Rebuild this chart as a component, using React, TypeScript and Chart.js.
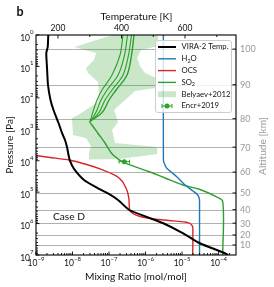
import React, { useEffect, useRef } from "react";
import { Chart, registerables } from "chart.js";

Chart.register(...registerables);

const FONT = "Lato, 'DejaVu Sans', sans-serif";

// ---------- data ----------
// VIRA-2 temperature profile: temperature [K] vs pressure [Pa]
const viraTempK = [169.4, 167.6, 163.1, 165.4, 168.5, 176.4, 185.8, 201.6, 212.6, 222.0, 228.3, 233.1, 237.8, 250.4, 281.9, 326.0, 357.5, 389.0, 424.6, 477.2, 529.8, 592.8, 645.0, 723.8, 735.4];
const viraPressPa = [1, 2.41, 3.74, 11.2, 39.0, 117, 243, 630, 1310, 2190, 3660, 6580, 1.02e4, 1.83e4, 4.11e4, 7.54e4, 1.10e5, 1.78e5, 3.70e5, 6.04e5, 9.58e5, 2.0e6, 4.15e6, 8.63e6, 1e7];

// H2O mixing ratio
const h2oMix = [3.08e-6, 3.08e-6, 3.32e-6, 3.81e-6, 7.16e-6, 1.21e-5, 2.0e-5, 2.69e-5, 2.98e-5, 3.01e-5, 3.01e-5];
const h2oPress = [1, 9.48e3, 1.27e4, 1.74e4, 3.22e4, 5.93e4, 9.19e4, 1.23e5, 1.65e5, 2.21e5, 1e7];

// OCS mixing ratio
const ocsMix = [3.65e-10, 1.0e-9, 2.42e-9, 8.02e-9, 2.2e-8, 5.66e-8, 1.56e-7, 2.27e-7, 2.74e-7, 3.21e-7, 3.53e-7, 3.65e-7, 4.46e-7, 7.06e-7, 1.33e-6, 4.41e-6, 1.21e-5, 1.66e-5, 1.96e-5, 1.96e-5];
const ocsPress = [5.77e3, 6.82e3, 7.91e3, 9.48e3, 1.27e4, 1.83e4, 3.06e4, 4.42e4, 6.37e4, 9.89e4, 1.78e5, 3.70e5, 4.71e5, 5.96e5, 6.89e5, 7.98e5, 8.91e5, 9.95e5, 1.26e6, 1e7];

// SO2 mixing ratio (main profile)
const so2Mix = [4.84e-7, 4.13e-7, 3.11e-7, 1.56e-7, 1.0e-7, 7.3e-8, 5.49e-8, 3.01e-8, 3.42e-8, 4.9e-8, 7.77e-8, 1.29e-7, 2.74e-7, 1.33e-6, 3.65e-6, 1.06e-5, 3.11e-5, 8.55e-5, 1.3e-4, 1.3e-4];
const so2Press = [1, 4.33, 18.7, 56.2, 117, 243, 350, 573, 730, 1310, 2730, 6580, 1.18e4, 2.29e4, 3.68e4, 5.93e4, 8.24e4, 1.4e5, 2.01e5, 1e7];

// SO2 upper-atmosphere variants
const so2UpperPress = [1, 4.33, 18.7, 56.2, 117, 243, 350, 573];
const so2MixA = [2.42e-7, 2.0e-7, 1.21e-7, 6.43e-8, 4.69e-8, 3.76e-8, 3.42e-8, 3.01e-8];
const so2MixB = [3.21e-7, 2.66e-7, 1.77e-7, 8.81e-8, 6.04e-8, 4.69e-8, 4.01e-8, 3.01e-8];
const so2MixC = [4.13e-7, 3.42e-7, 2.42e-7, 1.21e-7, 7.77e-8, 5.85e-8, 4.69e-8, 3.01e-8];

// Belyaev+2012 range (closed outline)
const belyaevMix = [1.26e-7, 2.2e-6, 2.2e-6, 7.54e-7, 5.85e-7, 7.06e-7, 9.68e-7, 1.94e-6, 1.94e-6, 5.15e-7, 2.74e-7, 1.37e-7, 1.77e-7, 1.21e-7, 1.46e-7, 2.07e-6, 2.07e-6, 2.0e-7, 2.83e-8, 2.83e-8, 3.21e-8, 2.34e-8, 1.03e-8, 9.68e-9, 1.42e-8, 5.0e-8, 5.32e-8, 5.0e-8, 2.66e-8, 2.34e-8, 3.88e-8, 4.41e-8, 1.12e-8, 1.26e-7];
const belyaevPress = [1, 1, 2.24, 3.0, 5.39, 9.69, 16.2, 23.3, 48.5, 60.5, 117, 243, 586, 1054, 2731, 3660, 6110, 8810, 9140, 5680, 3404, 1893, 1521, 438, 351, 136, 65.1, 31.3, 16.2, 11.2, 6.24, 3.74, 2.41, 1];

// Encrenaz+2019 point with error bar
const encrMix = [2.62e-7];
const encrMixLo = [1.88e-7];
const encrMixHi = [3.65e-7];
const encrPress = [1.07e4];

// axes
const mixTickExps = [-9, -8, -7, -6, -5, -4];
const pressTickExps = [0, 1, 2, 3, 4, 5, 6, 7];
const tempTicks = [200, 400, 600];
const tempMinorTicks = [300, 500, 700];
const altKm = [100, 90, 80, 70, 60, 50, 40, 30, 20, 10];
const altPress = [2.8, 38, 460, 3700, 2.3e4, 1.06e5, 3.6e5, 9.7e5, 2.3e6, 4.8e6];

const MIX_MIN = 1e-9;
const MIX_MAX = 3.0e-4;
const P_MIN = 1;
const P_MAX = 1e7;
const T_MIN = 130.7;
const T_MAX = 760.6;

const BLACK = "#000000";
const BLUE = "#1f77b4";
const RED = "#d62728";
const GREEN = "#2ca02c";
const BEL_FILL = "rgba(44,160,44,0.25)";

const pts = (xs: number[], ys: number[]) => xs.map((x, i) => ({ x, y: ys[i] }));

function fitSize(ctx: CanvasRenderingContext2D, text: string, target: number, weight = "") {
  ctx.font = `${weight} 10px ${FONT}`;
  const w = ctx.measureText(text).width;
  return (10 * target) / w;
}

function drawSci(ctx: CanvasRenderingContext2D, exp: number, x: number, baseY: number, align: "right" | "center", bf: number, ef: number, raise: number) {
  const base = "10";
  const e = exp < 0 ? "\u2212" + Math.abs(exp) : String(exp);
  ctx.font = `${bf}px ${FONT}`;
  const wb = ctx.measureText(base).width;
  ctx.font = `${ef}px ${FONT}`;
  const we = ctx.measureText(e).width;
  const total = wb + we;
  const x0 = align === "right" ? x - total : x - total / 2;
  ctx.textAlign = "left";
  ctx.textBaseline = "alphabetic";
  ctx.font = `${bf}px ${FONT}`;
  ctx.fillText(base, x0, baseY);
  ctx.font = `${ef}px ${FONT}`;
  ctx.fillText(e, x0 + wb, baseY - raise);
}

// text with subscripts: parts as [text, isSub]
function drawSub(ctx: CanvasRenderingContext2D, parts: [string, boolean][], x: number, y: number, size: number) {
  let cx = x;
  ctx.textAlign = "left";
  ctx.textBaseline = "middle";
  for (const [t, sub] of parts) {
    ctx.font = `${sub ? size * 0.7 : size}px ${FONT}`;
    ctx.fillText(t, cx, sub ? y + 2 : y);
    cx += ctx.measureText(t).width;
  }
}

const paperPlugin = {
  id: "paperAxes",
  beforeDatasetsDraw(chart: any) {
    const { ctx, chartArea: a, scales } = chart;
    const ys = scales.y;
    ctx.save();
    ctx.strokeStyle = "#b0b0b0";
    ctx.lineWidth = 1;
    for (const p of altPress) {
      const py = Math.round(ys.getPixelForValue(p)) + 0.5;
      ctx.beginPath();
      ctx.moveTo(a.left, py);
      ctx.lineTo(a.right, py);
      ctx.stroke();
    }
    ctx.restore();
  },
  afterDatasetsDraw(chart: any) {
    const { ctx, chartArea: a, scales } = chart;
    const xs = scales.x;
    const ys = scales.y;
    const xt = scales.xT;
    ctx.save();

    // ---- legend ----
    const lx = 155.5, ly = 40.5, lw = 76, lh = 72;
    ctx.beginPath();
    ctx.roundRect(lx, ly, lw, lh, 2.5);
    ctx.fillStyle = "rgba(255,255,255,0.8)";
    ctx.fill();
    ctx.strokeStyle = "#cccccc";
    ctx.lineWidth = 1;
    ctx.stroke();
    const legSize = fitSize(ctx, "VIRA-2 Temp.", 47);
    const rows = [47, 58.8, 70.6, 82.4, 94.2, 106];
    const hx0 = 158, hx1 = 176, tx = 181.5;
    const lineEntry = (y: number, color: string, w: number) => {
      ctx.strokeStyle = color;
      ctx.lineWidth = w;
      ctx.beginPath();
      ctx.moveTo(hx0, y);
      ctx.lineTo(hx1, y);
      ctx.stroke();
    };
    lineEntry(rows[0], BLACK, 2);
    lineEntry(rows[1], BLUE, 1.4);
    lineEntry(rows[2], RED, 1.4);
    lineEntry(rows[3], GREEN, 1.4);
    ctx.fillStyle = BEL_FILL;
    ctx.fillRect(hx0, rows[4] - 3, hx1 - hx0, 6);
    // errorbar handle
    ctx.strokeStyle = GREEN;
    ctx.lineWidth = 1;
    ctx.beginPath();
    ctx.moveTo(162, rows[5]);
    ctx.lineTo(172, rows[5]);
    ctx.moveTo(162, rows[5] - 2);
    ctx.lineTo(162, rows[5] + 2);
    ctx.moveTo(172, rows[5] - 2);
    ctx.lineTo(172, rows[5] + 2);
    ctx.stroke();
    ctx.fillStyle = GREEN;
    ctx.beginPath();
    ctx.arc(167, rows[5], 2.5, 0, Math.PI * 2);
    ctx.fill();

    ctx.fillStyle = "#111";
    drawSub(ctx, [["VIRA-2 Temp.", false]], tx, rows[0], legSize);
    drawSub(ctx, [["H", false], ["2", true], ["O", false]], tx, rows[1], legSize);
    drawSub(ctx, [["OCS", false]], tx, rows[2], legSize);
    drawSub(ctx, [["SO", false], ["2", true]], tx, rows[3], legSize);
    drawSub(ctx, [["Belyaev+2012", false]], tx, rows[4], legSize);
    drawSub(ctx, [["Encr+2019", false]], tx, rows[5], legSize);

    // ---- frame ----
    ctx.strokeStyle = "#000";
    ctx.lineWidth = 1.1;
    ctx.strokeRect(a.left, a.top, a.right - a.left, a.bottom - a.top);

    // ---- ticks ----
    ctx.lineWidth = 0.9;
    ctx.beginPath();
    for (let d = -9; d <= -4; d++) {
      for (let k = 1; k <= 9; k++) {
        const v = k * Math.pow(10, d);
        if (v < MIX_MIN * 0.999 || v > MIX_MAX) continue;
        const px = xs.getPixelForValue(v);
        const len = k === 1 ? 3.5 : 2;
        ctx.moveTo(px, a.bottom);
        ctx.lineTo(px, a.bottom - len);
      }
    }
    for (let d = 0; d <= 7; d++) {
      for (let k = 1; k <= 9; k++) {
        const v = k * Math.pow(10, d);
        if (v > P_MAX * 1.001) continue;
        const py = ys.getPixelForValue(v);
        const len = k === 1 ? 3.5 : 2;
        ctx.moveTo(a.left, py);
        ctx.lineTo(a.left + len, py);
      }
    }
    for (const t of tempTicks) {
      const px = xt.getPixelForValue(t);
      ctx.moveTo(px, a.top);
      ctx.lineTo(px, a.top + 3.5);
    }
    for (const t of tempMinorTicks) {
      const px = xt.getPixelForValue(t);
      ctx.moveTo(px, a.top);
      ctx.lineTo(px, a.top + 2);
    }
    for (const p of altPress) {
      const py = ys.getPixelForValue(p);
      ctx.moveTo(a.right, py);
      ctx.lineTo(a.right - 3.5, py);
    }
    ctx.stroke();

    // ---- tick labels ----
    ctx.fillStyle = "#111";
    for (const e of mixTickExps) {
      const px = xs.getPixelForValue(Math.pow(10, e));
      drawSci(ctx, e, px, 265.5, "center", 8.5, 6, 5);
    }
    for (const e of pressTickExps) {
      const py = ys.getPixelForValue(Math.pow(10, e));
      drawSci(ctx, e, 33.5, py + 5.5, "right", 8.5, 6, 6.5);
    }
    ctx.font = `8.5px ${FONT}`;
    ctx.textAlign = "center";
    ctx.textBaseline = "alphabetic";
    for (const t of tempTicks) {
      ctx.fillText(String(t), xt.getPixelForValue(t), 31);
    }
    ctx.fillStyle = "#999999";
    ctx.font = `9px ${FONT}`;
    ctx.textAlign = "left";
    ctx.textBaseline = "middle";
    altKm.forEach((km, i) => {
      ctx.fillText(String(km), a.right + 4, ys.getPixelForValue(altPress[i]) + 0.5);
    });

    // ---- axis titles ----
    ctx.fillStyle = "#111";
    const tSize = fitSize(ctx, "Mixing Ratio [mol/mol]", 102);
    ctx.font = `${tSize}px ${FONT}`;
    ctx.textAlign = "center";
    ctx.textBaseline = "middle";
    ctx.fillText("Mixing Ratio [mol/mol]", (a.left + a.right) / 2, 277);
    const topSize = fitSize(ctx, "Temperature [K]", 72);
    ctx.font = `${topSize}px ${FONT}`;
    ctx.fillText("Temperature [K]", (a.left + a.right) / 2 + 0.5, 16.5);
    ctx.save();
    ctx.translate(10, (a.top + a.bottom) / 2);
    ctx.rotate(-Math.PI / 2);
    ctx.font = `${tSize}px ${FONT}`;
    ctx.fillText("Pressure [Pa]", 0, 0);
    ctx.restore();
    ctx.save();
    ctx.translate(263, 146);
    ctx.rotate(-Math.PI / 2);
    ctx.fillStyle = "#999999";
    ctx.font = `${fitSize(ctx, "Altitude [km]", 58)}px ${FONT}`;
    ctx.fillText("Altitude [km]", 0, 0);
    ctx.restore();

    // ---- annotations ----
    ctx.fillStyle = "#111";
    ctx.font = `${fitSize(ctx, "Case D", 32)}px ${FONT}`;
    ctx.textAlign = "left";
    ctx.textBaseline = "alphabetic";
    ctx.fillText("Case D", 53, 220);
    ctx.font = `bold 12.5px ${FONT}`;
    ctx.fillText("b", 16.5, 15.5);

    ctx.restore();
  },
};

const lineDs = (label: string, xs: number[], ys: number[], color: string, width: number, tension: number, xAxisID = "x") => ({
  label,
  data: pts(xs, ys),
  xAxisID,
  yAxisID: "y",
  showLine: true,
  borderColor: color,
  backgroundColor: color,
  borderWidth: width,
  pointRadius: 0,
  tension,
  fill: false,
});

export default function App() {
  const ref = useRef<HTMLCanvasElement>(null);
  useEffect(() => {
    if (!ref.current) return;
    const chart = new Chart(ref.current, {
      type: "scatter",
      data: {
        datasets: [
          lineDs("VIRA-2 Temp.", viraTempK, viraPressPa, BLACK, 2, 0.2, "xT"),
          {
            label: "Encr+2019",
            data: pts(encrMix, encrPress),
            xAxisID: "x",
            yAxisID: "y",
            pointRadius: 2.5,
            pointBackgroundColor: GREEN,
            pointBorderWidth: 0,
          },
          {
            label: "Encr+2019 error",
            data: [
              { x: encrMixLo[0], y: encrPress[0] },
              { x: encrMixHi[0], y: encrPress[0] },
            ],
            xAxisID: "x",
            yAxisID: "y",
            showLine: true,
            borderColor: GREEN,
            borderWidth: 1,
            pointStyle: "line",
            rotation: 90,
            pointRadius: 2,
            pointBorderColor: GREEN,
            pointBorderWidth: 1,
          },
          lineDs("H2O", h2oMix, h2oPress, BLUE, 1.4, 0.2),
          lineDs("OCS", ocsMix, ocsPress, RED, 1.4, 0.15),
          lineDs("SO2", so2Mix, so2Press, GREEN, 1.4, 0.35),
          lineDs("SO2 a", so2MixA, so2UpperPress, GREEN, 1.1, 0.3),
          lineDs("SO2 b", so2MixB, so2UpperPress, GREEN, 1.1, 0.3),
          lineDs("SO2 c", so2MixC, so2UpperPress, GREEN, 1.1, 0.3),
          {
            label: "Belyaev+2012",
            data: pts(belyaevMix, belyaevPress),
            xAxisID: "x",
            yAxisID: "y",
            showLine: true,
            borderColor: "rgba(0,0,0,0)",
            borderWidth: 0,
            backgroundColor: BEL_FILL,
            pointRadius: 0,
            tension: 0,
            fill: "shape",
          },
        ] as any,
      },
      options: {
        animation: false,
        responsive: false,
        devicePixelRatio: 1,
        events: [],
        layout: { padding: { left: 36, right: 38, top: 35, bottom: 32 } },
        plugins: { legend: { display: false }, tooltip: { enabled: false } },
        scales: {
          x: { type: "logarithmic", min: MIX_MIN, max: MIX_MAX, display: false },
          xT: { type: "linear", axis: "x", position: "top", min: T_MIN, max: T_MAX, display: false },
          y: { type: "logarithmic", min: P_MIN, max: P_MAX, reverse: true, display: false },
        } as any,
      },
      plugins: [paperPlugin],
    });
    return () => chart.destroy();
  }, []);
  return (
    <div style={{ position: "fixed", left: 0, top: 0, width: 274, height: 287, background: "#fff" }}>
      <canvas ref={ref} width={274} height={287} style={{ display: "block", width: 274, height: 287 }} />
    </div>
  );
}
